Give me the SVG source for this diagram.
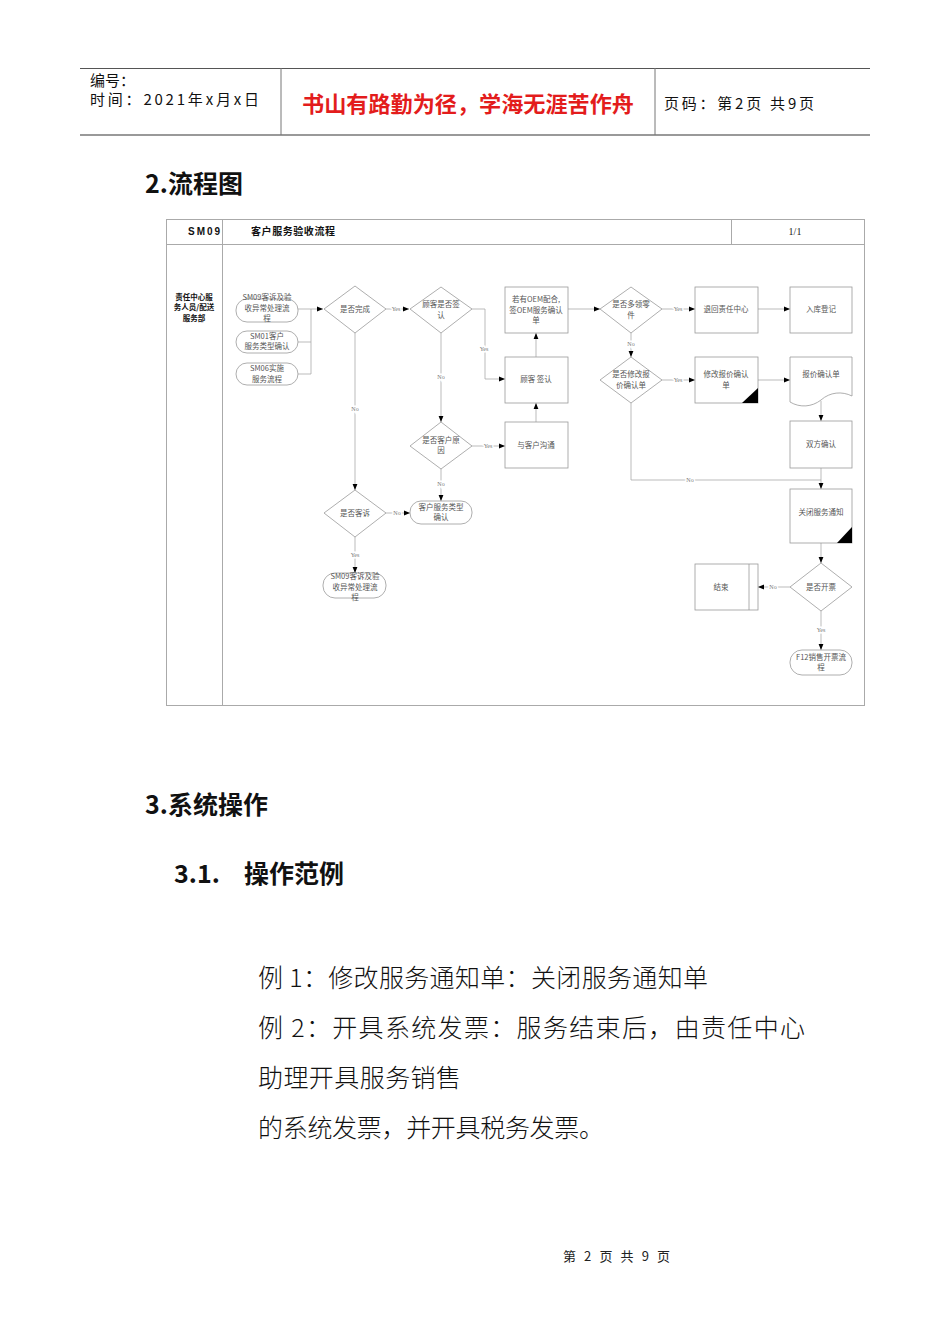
<svg xmlns="http://www.w3.org/2000/svg" width="950" height="1344" viewBox="0 0 950 1344">
<style>
.cjk{font-family:"Noto Sans CJK SC","Liberation Sans",sans-serif}
.lbl{font-family:"Noto Sans CJK SC","Liberation Serif",serif;font-size:7.5px;fill:#555;text-anchor:middle}
.yn{font-family:"Liberation Serif",serif;font-size:6px;fill:#777;text-anchor:middle;paint-order:stroke;stroke:#fff;stroke-width:3px}
.shp{fill:#fff;stroke:#999;stroke-width:0.8}
.con{fill:none;stroke:#aaa;stroke-width:0.8}
.arr{marker-end:url(#ah)}
.body{font-family:"Noto Sans CJK SC",sans-serif;font-size:25px;fill:#111;font-weight:300}
.h{font-family:"Noto Sans CJK SC",sans-serif;font-weight:700;fill:#111}
</style>
<defs>
<marker id="ah" viewBox="0 0 10 10" refX="10" refY="5" markerWidth="6" markerHeight="6" orient="auto" markerUnits="userSpaceOnUse"><path d="M0,1 L10,5 L0,9 z" fill="#000"/></marker>
</defs>
<rect width="950" height="1344" fill="#fff"/>

<!-- page header -->
<g id="page-header">
<line x1="80" y1="68.5" x2="870" y2="68.5" stroke="#555" stroke-width="1"/>
<line x1="80" y1="135" x2="870" y2="135" stroke="#999" stroke-width="2"/>
<line x1="281" y1="68" x2="281" y2="135" stroke="#777"/>
<line x1="655" y1="68" x2="655" y2="135" stroke="#777"/>
<text class="cjk" x="90" y="86" font-size="15" fill="#111">编号：</text>
<text class="cjk" x="90" y="105" font-size="15" fill="#111" textLength="169" lengthAdjust="spacing">时间：2021年x月x日</text>
<text class="cjk" x="468" y="112" font-size="21.5" font-weight="700" fill="#e31c1c" text-anchor="middle" textLength="332" lengthAdjust="spacingAndGlyphs">书山有路勤为径，学海无涯苦作舟</text>
<text class="cjk" x="664" y="109" font-size="15" fill="#111" textLength="150" lengthAdjust="spacing">页码：第2页 共9页</text>
</g>

<text class="h" x="145" y="193" font-size="25">2.流程图</text>

<!-- flowchart frame -->
<g id="frame">
<rect x="166.5" y="219.5" width="698" height="486" fill="none" stroke="#aaa" stroke-width="1"/>
<line x1="166" y1="244.5" x2="865" y2="244.5" stroke="#aaa"/>
<line x1="222.5" y1="219" x2="222.5" y2="706" stroke="#aaa"/>
<line x1="731.5" y1="219" x2="731.5" y2="244" stroke="#aaa"/>
<text x="188" y="235" font-family="Liberation Sans,sans-serif" font-size="10" font-weight="700" fill="#111" textLength="32" lengthAdjust="spacing">SM09</text>
<text class="cjk" x="251" y="235" font-size="10" font-weight="700" fill="#111" textLength="84" lengthAdjust="spacing">客户服务验收流程</text>
<text x="795" y="235" font-family="Liberation Serif,serif" font-size="10" fill="#222" text-anchor="middle">1/1</text>
<g class="cjk" font-size="7.5" font-weight="700" fill="#111" text-anchor="middle">
<text x="194" y="300">责任中心服</text>
<text x="194" y="310">务人员/配送</text>
<text x="194" y="321">服务部</text>
</g>
</g>

<!-- connectors -->
<g id="connectors">
<path class="con" d="M298,309 H311 M298,342 H311 M298,374 H311 M311,309 V374"/>
<path class="con arr" d="M311,309 H323"/>
<path class="con arr" d="M386,309 H409"/>
<path class="con arr" d="M472,309 H485 V379 H505"/>
<path class="con arr" d="M441,333 V422"/>
<path class="con arr" d="M355,333 V490"/>
<path class="con arr" d="M536,357 V333"/>
<path class="con arr" d="M536,422 V403"/>
<path class="con arr" d="M472,446 H505"/>
<path class="con arr" d="M441,469 V501"/>
<path class="con arr" d="M386,513 H410"/>
<path class="con arr" d="M355,537 V573"/>
<path class="con arr" d="M568,309 H600"/>
<path class="con arr" d="M662,309 H695"/>
<path class="con arr" d="M758,309 H790"/>
<path class="con arr" d="M631,333 V357"/>
<path class="con arr" d="M662,380 H695"/>
<path class="con arr" d="M758,380 H790"/>
<path class="con arr" d="M821,401 V421"/>
<path class="con arr" d="M821,468 V489"/>
<path class="con" d="M631,403 V480 H821"/>
<path class="con arr" d="M821,543 V563"/>
<path class="con arr" d="M790,587 H758"/>
<path class="con arr" d="M821,611 V650"/>
<text class="yn" x="396" y="311">Yes</text>
<text class="yn" x="484" y="351">Yes</text>
<text class="yn" x="441" y="379">No</text>
<text class="yn" x="355" y="411">No</text>
<text class="yn" x="488" y="448">Yes</text>
<text class="yn" x="441" y="486">No</text>
<text class="yn" x="397" y="515">No</text>
<text class="yn" x="355" y="557">Yes</text>
<text class="yn" x="678" y="311">Yes</text>
<text class="yn" x="631" y="346">No</text>
<text class="yn" x="678" y="382">Yes</text>
<text class="yn" x="690" y="482">No</text>
<text class="yn" x="773" y="589">No</text>
<text class="yn" x="821" y="632">Yes</text>
</g>

<!-- nodes -->
<g id="n-sm09-top"><rect class="shp" x="236" y="299" width="62" height="23" rx="11"/>
<text class="lbl" x="267" y="300">SM09客诉及验</text><text class="lbl" x="267" y="311">收异常处理流</text><text class="lbl" x="267" y="321">程</text></g>
<g id="n-sm01"><rect class="shp" x="236" y="331" width="62" height="22" rx="11"/>
<text class="lbl" x="267" y="339">SM01客户</text><text class="lbl" x="267" y="349">服务类型确认</text></g>
<g id="n-sm06"><rect class="shp" x="236" y="363" width="62" height="22" rx="11"/>
<text class="lbl" x="267" y="371">SM06实施</text><text class="lbl" x="267" y="382">服务流程</text></g>

<g id="n-done"><polygon class="shp" points="355,286 386,309 355,333 324,309"/>
<text class="lbl" x="355" y="312">是否完成</text></g>
<g id="n-signq"><polygon class="shp" points="441,287 472,309 441,333 410,309"/>
<text class="lbl" x="441" y="307">顾客是否签</text><text class="lbl" x="441" y="318">认</text></g>
<g id="n-oem"><rect class="shp" x="505" y="287" width="63" height="46"/>
<text class="lbl" x="536" y="302">若有OEM配合,</text><text class="lbl" x="536" y="313">签OEM服务确认</text><text class="lbl" x="536" y="323">单</text></g>
<g id="n-sign"><rect class="shp" x="505" y="357" width="63" height="46"/>
<text class="lbl" x="536" y="382">顾客 签认</text></g>
<g id="n-talk"><rect class="shp" x="505" y="422" width="63" height="46"/>
<text class="lbl" x="536" y="448">与客户沟通</text></g>
<g id="n-custq"><polygon class="shp" points="441,422 472,446 441,469 410,446"/>
<text class="lbl" x="441" y="443">是否客户原</text><text class="lbl" x="441" y="453">因</text></g>
<g id="n-type"><rect class="shp" x="410" y="501" width="62" height="23" rx="11"/>
<text class="lbl" x="441" y="510">客户服务类型</text><text class="lbl" x="441" y="520">确认</text></g>
<g id="n-complaint"><polygon class="shp" points="355,490 386,513 355,537 324,513"/>
<text class="lbl" x="355" y="516">是否客诉</text></g>
<g id="n-sm09-bot"><rect class="shp" x="323" y="573" width="63" height="25" rx="12"/>
<text class="lbl" x="355" y="579">SM09客诉及验</text><text class="lbl" x="355" y="590">收异常处理流</text><text class="lbl" x="355" y="600">程</text></g>

<g id="n-parts"><polygon class="shp" points="631,287 662,309 631,333 600,309"/>
<text class="lbl" x="631" y="307">是否多领零</text><text class="lbl" x="631" y="318">件</text></g>
<g id="n-return"><rect class="shp" x="695" y="287" width="63" height="46"/>
<text class="lbl" x="726" y="312">退回责任中心</text></g>
<g id="n-stock"><rect class="shp" x="790" y="287" width="62" height="46"/>
<text class="lbl" x="821" y="312">入库登记</text></g>
<g id="n-modq"><polygon class="shp" points="631,357 662,380 631,403 600,380"/>
<text class="lbl" x="631" y="377">是否修改报</text><text class="lbl" x="631" y="388">价确认单</text></g>
<g id="n-mod"><rect class="shp" x="695" y="357" width="63" height="46"/>
<polygon points="742,403 758,403 758,388" fill="#000"/>
<text class="lbl" x="726" y="377">修改报价确认</text><text class="lbl" x="726" y="388">单</text></g>
<g id="n-quote"><path class="shp" d="M790,357 H852 V396 C842,391 830,392 821,400 C812,407 800,408 790,402 Z"/>
<text class="lbl" x="821" y="377">报价确认单</text></g>
<g id="n-both"><rect class="shp" x="790" y="421" width="62" height="47"/>
<text class="lbl" x="821" y="447">双方确认</text></g>
<g id="n-close"><rect class="shp" x="790" y="489" width="62" height="54"/>
<polygon points="837,543 852,543 852,527" fill="#000"/>
<text class="lbl" x="821" y="515">关闭服务通知</text></g>
<g id="n-invq"><polygon class="shp" points="821,563 852,587 821,611 790,587"/>
<text class="lbl" x="821" y="590">是否开票</text></g>
<g id="n-end"><rect class="shp" x="695" y="564" width="63" height="46"/>
<line x1="749" y1="564" x2="749" y2="610" stroke="#999" stroke-width="0.8"/>
<text class="lbl" x="721" y="590">结束</text></g>
<g id="n-f12"><rect class="shp" x="790" y="650" width="62" height="25" rx="12"/>
<text class="lbl" x="821" y="660">F12销售开票流</text><text class="lbl" x="821" y="670">程</text></g>

<text class="h" x="145" y="814" font-size="25">3.系统操作</text>
<text class="h" x="174" y="883" font-size="25">3.1.</text>
<text class="h" x="244" y="883" font-size="25">操作范例</text>

<text class="body" x="258" y="987" textLength="450" lengthAdjust="spacing">例 1：修改服务通知单：关闭服务通知单</text>
<text class="body" x="258" y="1037" textLength="547" lengthAdjust="spacing">例 2：开具系统发票：服务结束后，由责任中心</text>
<text class="body" x="258" y="1087" textLength="203" lengthAdjust="spacing">助理开具服务销售</text>
<text class="body" x="258" y="1137" textLength="346" lengthAdjust="spacing">的系统发票，并开具税务发票。</text>

<text class="cjk" x="563" y="1261" font-size="13" fill="#222" textLength="107" lengthAdjust="spacing">第 2 页 共 9 页</text>
</svg>
